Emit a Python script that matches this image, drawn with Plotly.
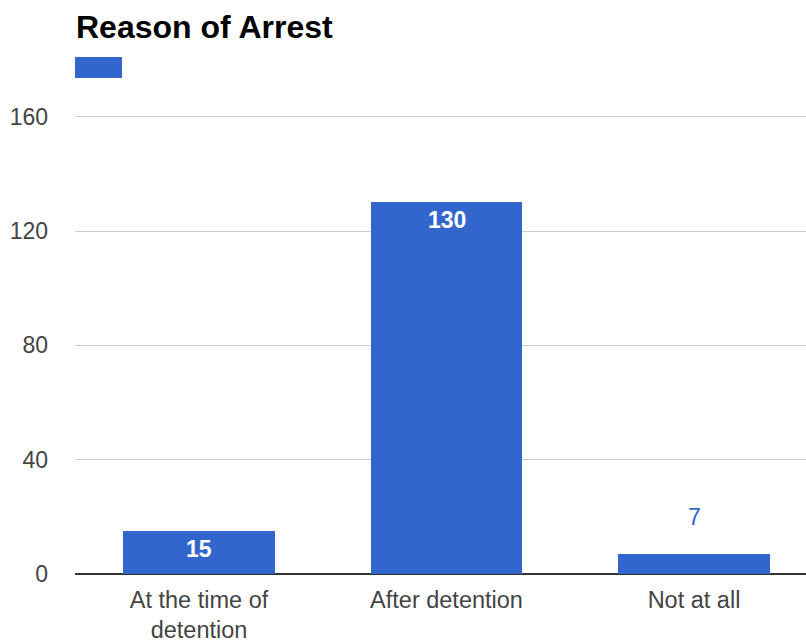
import plotly.graph_objects as go

# Chart data
categories = ["At the time of<br>detention", "After detention", "Not at all"]
counts = [15, 130, 7]
label_inside = [True, True, False]
y_ticks = [0, 40, 80, 120, 160]

BAR_COLOR = "#3366cc"
FONT = "Liberation Sans, Arial, sans-serif"
TOP, BOTTOM = 111, 68
PLOT_H = 642 - TOP - BOTTOM

fig = go.Figure()
fig.add_trace(go.Bar(
    x=categories,
    y=counts,
    marker=dict(color=BAR_COLOR, line=dict(width=0)),
    width=0.614,
    showlegend=False,
    hoverinfo="x+y",
))

# Value labels: white inside tall bars, blue above short ones
for cat, val, inside in zip(categories, counts, label_inside):
    if inside:
        fig.add_annotation(x=cat, y=val, text=f"<b>{val}</b>", showarrow=False,
                           yanchor="top", yshift=-3,
                           font=dict(family=FONT, size=23, color="#ffffff"))
    else:
        fig.add_annotation(x=cat, y=val, text=str(val), showarrow=False,
                           yanchor="bottom", yshift=22,
                           font=dict(family=FONT, size=23, color=BAR_COLOR))

# Legend swatch under the title
fig.add_shape(type="rect", xref="paper", yref="paper",
              x0=0, x1=47 / 731,
              y0=1 + (TOP - 78) / PLOT_H, y1=1 + (TOP - 57) / PLOT_H,
              fillcolor=BAR_COLOR, line=dict(width=0))

fig.update_layout(
    width=806, height=642,
    margin=dict(l=75, r=0, t=TOP, b=BOTTOM, pad=0, autoexpand=False),
    paper_bgcolor="white", plot_bgcolor="white",
    title=dict(text="<b>Reason of Arrest</b>", x=76 / 806, xanchor="left",
               y=1 - 27 / 642, yanchor="middle",
               font=dict(family=FONT, size=32, color="#000000")),
    font=dict(family=FONT, size=23, color="#444444"),
    bargap=0,
)
fig.update_xaxes(range=[-0.501, 2.4525], showgrid=False, showline=False,
                 ticks="", ticklabelstandoff=9, automargin=False,
                 tickfont=dict(size=23.5, color="#444444"),
                 fixedrange=True)
fig.update_yaxes(range=[0, 162], tickvals=y_ticks, ticktext=[str(v) for v in y_ticks],
                 showgrid=True, gridcolor="#cccccc", gridwidth=1,
                 zeroline=True, zerolinecolor="#333333", zerolinewidth=2,
                 ticks="", ticklabelstandoff=26, showline=False, automargin=False,
                 tickfont=dict(size=23, color="#444444"), fixedrange=True)

fig.write_html("out.html")
